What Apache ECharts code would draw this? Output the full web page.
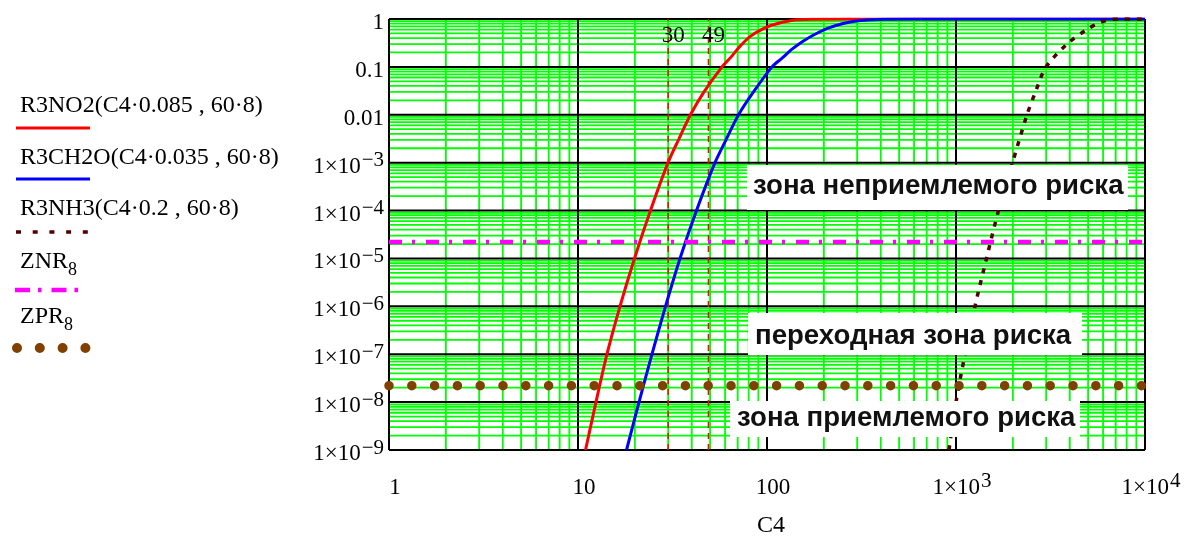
<!DOCTYPE html>
<html>
<head>
<meta charset="utf-8">
<script src="https://cdn.jsdelivr.net/npm/echarts@6/dist/echarts.min.js"></script>
<style>
  html, body { margin: 0; padding: 0; background: #fff; }
  #chart { width: 1184px; height: 537px; }
</style>
</head>
<body>
<div id="chart"></div>
<script>
// Risk curves R3(C4·k, 60·8) against concentration C4
const c4NO2   = [10.96, 12.45, 14.23, 16.68, 19.9, 24.18, 29.94, 34.02, 39.37, 46.42, 57.8, 64.5, 72, 81.3, 91.8, 107.6, 137.3, 179.5, 275, 10000];
const riskNO2 = [1e-9, 1e-8, 1e-7, 1e-6, 1e-5, 1e-4, 1e-3, 0.003, 0.01, 0.03, 0.1, 0.16, 0.27, 0.43, 0.58, 0.76, 0.944, 0.99, 1, 1];

const c4CH2O   = [18.06, 21.03, 24.63, 29.04, 34.65, 42.36, 53.07, 60.7, 70.7, 84.8, 106.3, 120.1, 135.6, 155.1, 179.5, 210.2, 249.4, 303, 386.7, 571, 10000];
const riskCH2O = [1e-9, 1e-8, 1e-7, 1e-6, 1e-5, 1e-4, 1e-3, 0.003, 0.01, 0.03, 0.1, 0.152, 0.234, 0.344, 0.481, 0.642, 0.798, 0.921, 0.981, 1, 1];

const c4NH3   = [918, 1000, 1116, 1260, 1450, 1678, 1991, 2375, 2634, 2994, 3928, 4914, 5781, 6531, 7320, 10000];
const riskNH3 = [1e-9, 1e-8, 1e-7, 1e-6, 1e-5, 1e-4, 1e-3, 0.01, 0.03, 0.1, 0.315, 0.6, 0.85, 0.97, 1, 1];

// Boundary risk levels
const levelZNR = 2.2e-5;
const levelZPR = 2.2e-8;

// Marked concentrations
const markerC4 = [30, 49];

// Axis ticks and their labels
const xTicks    = [1, 10, 100, 1000, 10000];
const xTickBase = ['1', '10', '100', '1×10', '1×10'];
const xTickExp  = ['', '', '', '3', '4'];

const yTicks    = [1e-9, 1e-8, 1e-7, 1e-6, 1e-5, 1e-4, 1e-3, 0.01, 0.1, 1];
const yTickBase = ['1×10', '1×10', '1×10', '1×10', '1×10', '1×10', '1×10', '0.01', '0.1', '1'];
const yTickExp  = ['\u22129', '\u22128', '\u22127', '\u22126', '\u22125', '\u22124', '\u22123', '', '', ''];

const xTitle = 'C4';
const zoneTexts = ['зона неприемлемого риска', 'переходная зона риска', 'зона приемлемого риска'];
const legendTexts = ['R3NO2(C4·0.085 , 60·8)', 'R3CH2O(C4·0.035 , 60·8)', 'R3NH3(C4·0.2 , 60·8)', 'ZNR', 'ZPR'];
const legendSubs  = ['', '', '', '8', '8'];

const SERIF = '"Liberation Serif", "Times New Roman", serif';
const SANS  = '"Liberation Sans", Arial, sans-serif';

const COL_NO2 = '#ff0000', COL_CH2O = '#0000ff', COL_NH3 = '#520000';
const COL_ZNR = '#ff00ff', COL_ZPR = '#804000';

function minorsOf(majors) {
  const out = [];
  for (let i = 0; i < majors.length - 1; i++) {
    for (let m = 2; m <= 9; m++) out.push(majors[i] * m);
  }
  return out;
}
const xMinor = minorsOf(xTicks);
const yMinor = minorsOf(yTicks);

function tickFormatter(ticks, base, exp) {
  return function (v) {
    const i = ticks.findIndex(t => Math.abs(Math.log10(t) - Math.log10(v)) < 1e-6);
    if (i < 0) return '';
    return exp[i] ? '{b|' + base[i] + '}{s|' + exp[i] + '}' : '{b|' + base[i] + '}';
  };
}

// base text sits low in a taller line, exponent hugs the top
const tickRich = {
  b: { fontFamily: SERIF, fontSize: 23, color: '#000', lineHeight: 31, padding: [8, 0, 0, 0], verticalAlign: 'bottom' },
  s: { fontFamily: SERIF, fontSize: 21, color: '#000', lineHeight: 24, padding: [3, 0, 0, 1], verticalAlign: 'top' }
};

function pairs(xs, ys) { return xs.map((x, i) => [x, ys[i]]); }

const xMin = xTicks[0], xMax = xTicks[xTicks.length - 1];
const yMin = yTicks[0], yMax = yTicks[yTicks.length - 1];

// Logarithmic grid: green minor lines, black decade lines and frame
const gridSeries = {
  type: 'custom',
  silent: true,
  clip: false,
  z: 1,
  data: [[xMin, yMax]],
  renderItem: function (params, api) {
    const children = [];
    const seg = (a, b, color, w) => ({
      type: 'line',
      shape: { x1: a[0], y1: a[1], x2: b[0], y2: b[1] },
      style: { stroke: color, lineWidth: w }
    });
    xMinor.forEach(v => children.push(seg(api.coord([v, yMin]), api.coord([v, yMax]), '#00ff00', 1.8)));
    yMinor.forEach(v => children.push(seg(api.coord([xMin, v]), api.coord([xMax, v]), '#00ff00', 1.8)));
    xTicks.forEach(v => children.push(seg(api.coord([v, yMin]), api.coord([v, yMax]), '#000', 2)));
    yTicks.forEach(v => children.push(seg(api.coord([xMin, v]), api.coord([xMax, v]), '#000', 2)));
    return { type: 'group', children };
  }
};

// Dashed verticals at the marked concentrations, labelled near the top
const markerSeries = {
  type: 'custom',
  silent: true,
  clip: false,
  z: 2,
  data: markerC4.map(v => [v, yMax]),
  renderItem: function (params, api) {
    const v = api.value(0);
    const bot = api.coord([v, yMin]);
    const top = api.coord([v, yMax]);
    return {
      type: 'group',
      children: [
        { type: 'line', shape: { x1: bot[0], y1: bot[1], x2: top[0], y2: top[1] },
          style: { stroke: '#ff0000', lineWidth: 1.5, lineDash: [6, 5] } },
        { type: 'text', style: { text: String(v), x: top[0] + 5, y: top[1] + 17,
          fill: '#000', font: '23px ' + SERIF, align: 'center', verticalAlign: 'middle' } }
      ]
    };
  }
};

function curve(name, data, lineStyle, z) {
  return { type: 'line', name, data, symbol: 'none', showSymbol: false, smooth: 0.3,
           silent: true, z: z, lineStyle };
}

const series = [
  gridSeries,
  markerSeries,
  curve('R3NO2', pairs(c4NO2, riskNO2), { color: COL_NO2, width: 3 }, 3),
  curve('R3CH2O', pairs(c4CH2O, riskCH2O), { color: COL_CH2O, width: 3 }, 3),
  curve('R3NH3', pairs(c4NH3, riskNH3), { color: COL_NH3, width: 3.5, type: [5, 7] }, 3),
  { type: 'line', name: 'ZNR', data: [[xMin, levelZNR], [xMax, levelZNR]], symbol: 'none', silent: true, z: 4,
    lineStyle: { color: COL_ZNR, width: 4.5, type: [13, 10, 3, 11] } },
  { type: 'line', name: 'ZPR', data: [[xMin, levelZPR], [xMax, levelZPR]], symbol: 'none', silent: true, z: 4,
    lineStyle: { color: COL_ZPR, width: 9.5, type: [0.001, 22.8], cap: 'round' } }
];

// Legend block on the left: caption above each line sample
const legendTop = [94, 146, 197, 250, 305];
const sampleY = [128, 179, 232, 290, 348];
const legendGraphics = [];
legendTexts.forEach((t, i) => {
  legendGraphics.push({
    type: 'text', z: 10, x: 20, y: legendTop[i],
    style: {
      text: legendSubs[i] ? '{a|' + t + '}{s|' + legendSubs[i] + '}' : '{a|' + t + '}',
      rich: {
        a: { fontFamily: SERIF, fontSize: 24, fill: '#000', lineHeight: 24, verticalAlign: 'top' },
        s: { fontFamily: SERIF, fontSize: 18, fill: '#000', lineHeight: 29, padding: [11, 0, 0, 0], verticalAlign: 'top' }
      },
      verticalAlign: 'top', align: 'left'
    }
  });
});
const sampleStyles = [
  { stroke: COL_NO2, lineWidth: 3 },
  { stroke: COL_CH2O, lineWidth: 3 },
  { stroke: COL_NH3, lineWidth: 3.5, lineDash: [5, 11.7] },
  { stroke: COL_ZNR, lineWidth: 4.5, lineDash: [15, 8, 3.5, 10] },
  { stroke: COL_ZPR, lineWidth: 10, lineDash: [0.001, 22.8], lineCap: 'round' }
];
const sampleX = [[16, 90], [16, 90], [16, 90], [15, 80], [17, 86]];
sampleStyles.forEach((st, i) => {
  legendGraphics.push({
    type: 'line', z: 10,
    shape: { x1: sampleX[i][0], y1: sampleY[i], x2: sampleX[i][1], y2: sampleY[i] },
    style: st
  });
});

// Zone captions on white boxes
const zoneBoxes = [
  { x: 747, y: 165, w: 381, h: 45, ty: 186, tx: 753 },
  { x: 748, y: 313, w: 334, h: 42, ty: 336, tx: 755 },
  { x: 730, y: 401, w: 350, h: 36, ty: 418, tx: 737 }
];
const zoneGraphics = [];
zoneTexts.forEach((t, i) => {
  const b = zoneBoxes[i];
  zoneGraphics.push({ type: 'rect', z: 20, shape: { x: b.x, y: b.y, width: b.w, height: b.h }, style: { fill: '#fff' } });
  zoneGraphics.push({ type: 'text', z: 21, x: b.tx, y: b.ty,
    style: { text: t, fill: '#111', font: 'bold 27.6px ' + SANS, align: 'left', verticalAlign: 'middle' } });
});

const chart = echarts.init(document.getElementById('chart'), null, { renderer: 'canvas' });
chart.setOption({
  animation: false,
  backgroundColor: '#fff',
  grid: { left: 389, top: 19, width: 756, height: 431, show: false, containLabel: false, outerBoundsMode: 'none' },
  xAxis: {
    type: 'log', logBase: 10, min: xMin, max: xMax, splitNumber: 4,
    axisLine: { show: false }, axisTick: { show: false },
    splitLine: { show: false }, minorTick: { show: false }, minorSplitLine: { show: false },
    axisLabel: { formatter: tickFormatter(xTicks, xTickBase, xTickExp), margin: 18, padding: [0, 0, 0, 12],
                 rich: tickRich, hideOverlap: false, showMinLabel: true, showMaxLabel: true },
    name: xTitle, nameLocation: 'middle', nameGap: 64,
    nameTextStyle: { fontFamily: SERIF, fontSize: 24, color: '#000', padding: [0, 0, 0, 8] }
  },
  yAxis: {
    type: 'log', logBase: 10, min: yMin, max: yMax, splitNumber: 9,
    axisLine: { show: false }, axisTick: { show: false },
    splitLine: { show: false }, minorTick: { show: false }, minorSplitLine: { show: false },
    axisLabel: { formatter: tickFormatter(yTicks, yTickBase, yTickExp), margin: 5,
                 rich: tickRich, hideOverlap: false, showMinLabel: true, showMaxLabel: true }
  },
  series: series,
  graphic: { elements: legendGraphics.concat(zoneGraphics) }
});
</script>
</body>
</html>
